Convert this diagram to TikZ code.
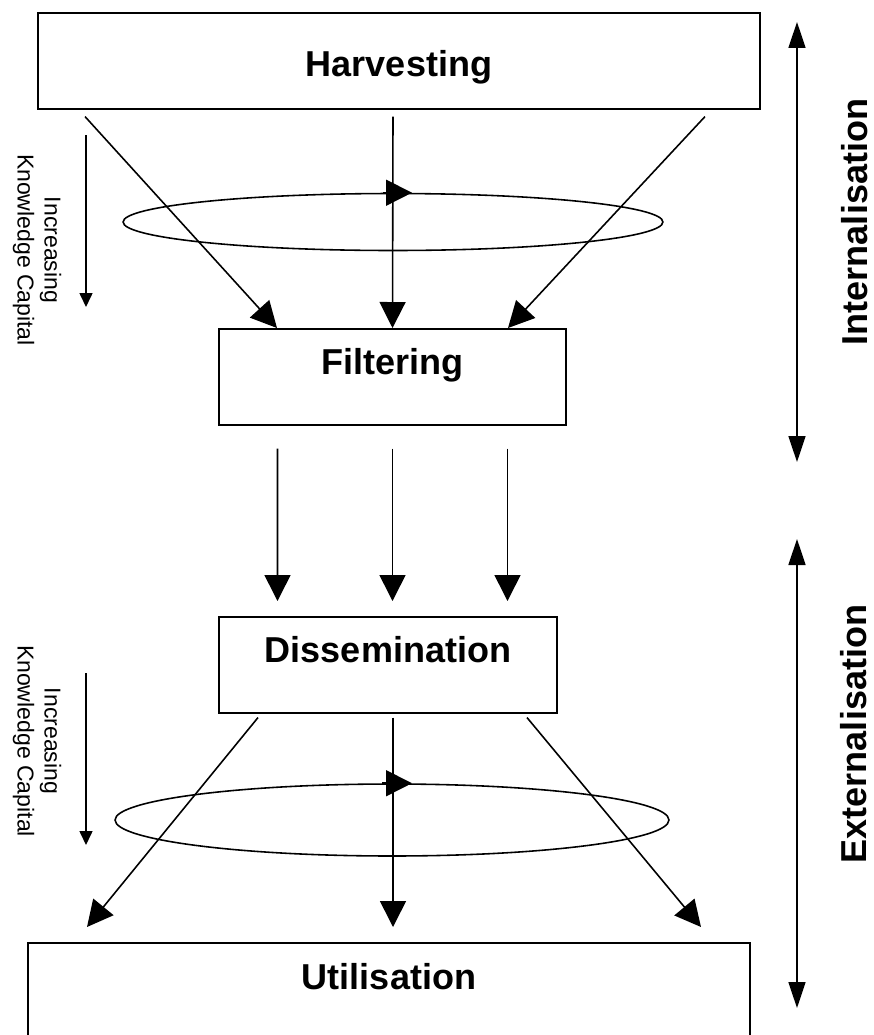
\documentclass[tikz,border=0pt]{standalone}
\usepackage{fontspec}
\setmainfont{Liberation Sans}
\usetikzlibrary{arrows.meta,shapes.geometric}

\begin{document}
\begin{tikzpicture}[
    x=0.02cm, y=-0.02cm,
    line width=0.9pt,
    box/.style={
        draw,
        anchor=north,
        inner xsep=0pt,
        inner ysep=0pt,
        font=\bfseries\fontsize{20.5}{24}\selectfont
    },
    ring/.style={draw, ellipse, inner sep=0pt},
    flow/.style={-{Triangle[length=0.52cm,width=0.52cm]}},
    span/.style={{Triangle[length=0.52cm,width=0.34cm]}-{Triangle[length=0.52cm,width=0.34cm]}},
    gain/.style={-{Triangle[length=0.28cm,width=0.26cm]}},
    side/.style={font=\bfseries\fontsize{20.5}{24}\selectfont, rotate=90},
    note/.style={font=\fontsize{13.1}{15.4}\selectfont, align=center, rotate=-90}
]
    \path[use as bounding box, clip] (0,0) rectangle (873,1035);

    % Stages of the process
    \node[box, minimum width=14.44cm, text height=1.28cm, text depth=0.64cm] (harv) at (399,12) {Harvesting};
    \node[box, minimum width=6.94cm, text height=0.92cm, text depth=1cm] (filt) at (392.5,328) {Filtering};
    \node[box, minimum width=6.76cm, text height=0.92cm, text depth=1cm] (diss) at (388,616) {Dissemination};
    \node[box, minimum width=14.44cm, text height=0.94cm, text depth=2cm] (util) at (389,942) {Utilisation};

    % Cycles round the flows
    \node[ring, minimum width=10.8cm, minimum height=1.14cm] (ring1) at (393,222) {};
    \node[ring, minimum width=11.08cm, minimum height=1.44cm] (ring2) at (392,820) {};
    \draw[flow] ([xshift=-0.2cm]ring1.north) -- ([xshift=0.38cm]ring1.north);
    \draw[flow] ([xshift=-0.2cm]ring2.north) -- ([xshift=0.4cm]ring2.north);

    % Harvesting to Filtering
    \draw[flow] ([shift={(-314,7)}]harv.south) -- ([shift={(-115.5,0)}]filt.north);
    \draw[flow] ([shift={(-6,7)}]harv.south) -- (filt.north);
    \draw[flow] ([shift={(306,7)}]harv.south) -- ([shift={(115.5,0)}]filt.north);

    % Filtering to Dissemination
    \foreach \dx in {-115,0,115}
        \draw[flow] ([shift={(\dx,23)}]filt.south) -- ([shift={(\dx+4.5,-15)}]diss.north);

    % Dissemination to Utilisation
    \draw[flow] ([shift={(-130,4)}]diss.south) -- ([shift={(-302,-15)}]util.north);
    \draw[flow] ([shift={(5,4)}]diss.south) -- ([shift={(4,-15)}]util.north);
    \draw[flow] ([shift={(139,4)}]diss.south) -- ([shift={(312,-15)}]util.north);

    % Increasing knowledge capital
    \coordinate (gain1top) at (86,135);
    \coordinate (gain1end) at (86,307);
    \coordinate (gain2top) at (86,673);
    \coordinate (gain2end) at (86,845);
    \draw[gain] (gain1top) -- (gain1end);
    \draw[gain] (gain2top) -- (gain2end);
    \node[note] (note1) at (37,250) {Increasing\\Knowledge Capital};
    \node[note] (note2) at (37,741) {Increasing\\Knowledge Capital};

    % Internalisation and externalisation
    \coordinate (inttop) at (797,22);
    \coordinate (intend) at (797,462);
    \coordinate (exttop) at (797,539);
    \coordinate (extend) at (797,1008);
    \draw[span] (inttop) -- (intend);
    \draw[span] (exttop) -- (extend);
    \node[side] (intlabel) at (855,222) {Internalisation};
    \node[side] (extlabel) at (854,734) {Externalisation};
\end{tikzpicture}
\end{document}
